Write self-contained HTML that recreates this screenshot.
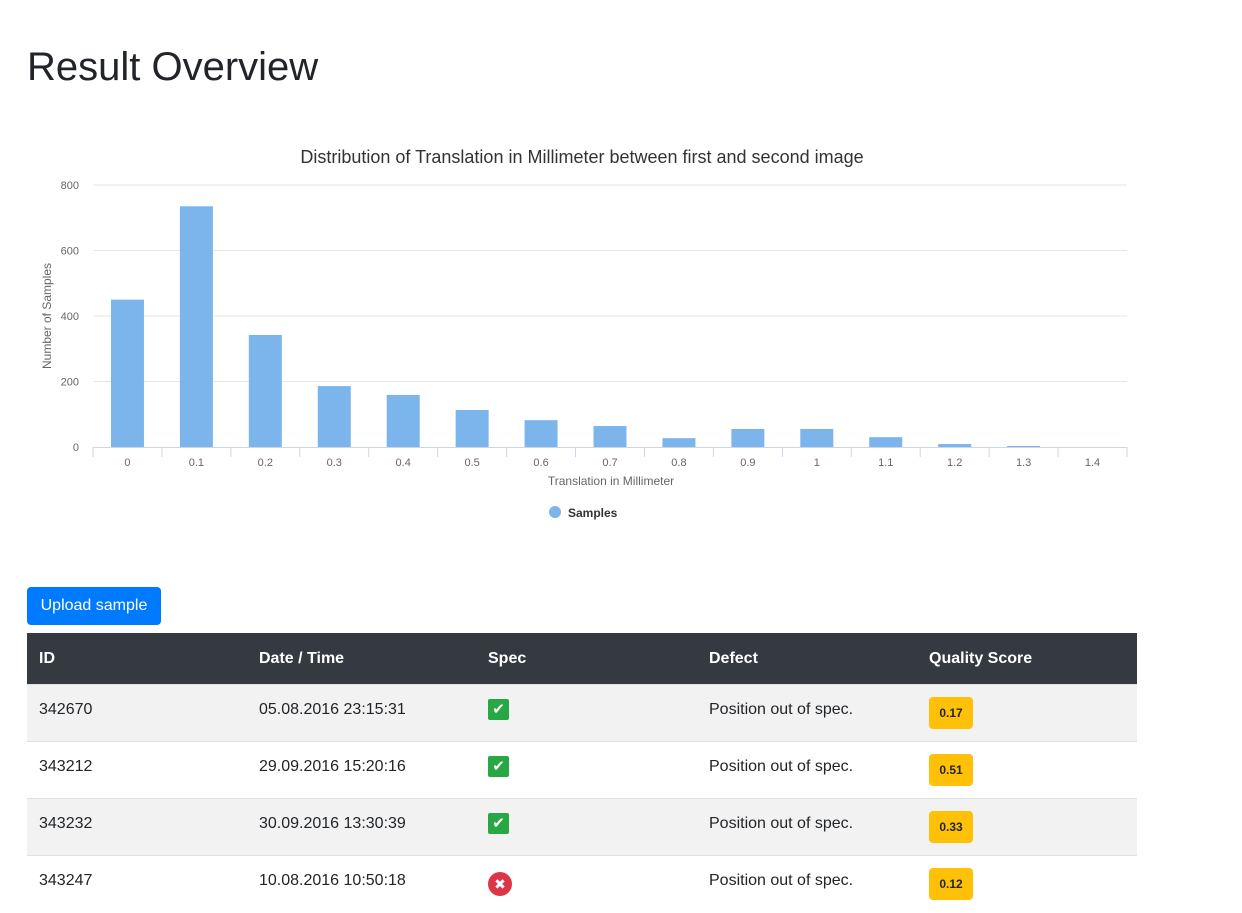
<!DOCTYPE html>
<html><head><meta charset="utf-8"><style>
body{margin:0;background:#fff;font-family:"Liberation Sans",sans-serif;color:#212529;width:1242px;height:877px;overflow:hidden;position:relative}
h1{position:absolute;left:27px;top:43px;margin:0;font-weight:400;font-size:40px;line-height:48px}
#chart{position:absolute;left:0;top:0}
.btn{position:absolute;left:27px;top:587px;width:134px;height:38px;background:#007bff;color:#fff;border-radius:4px;font-size:16px;line-height:38px;text-align:center}
table{position:absolute;left:27px;top:633px;width:1110px;border-collapse:collapse;font-size:16px}
th{background:#343a40;color:#fff;text-align:left;height:51px;padding:0 12px;font-weight:700}
td{height:57px;padding:0 12px;border-top:1px solid #dee2e6;vertical-align:top;padding-top:16px;box-sizing:border-box}
tr.odd td{background:#f2f2f2}
.ok{display:inline-block;width:21px;height:21px;background:#28a745;border-radius:2px;color:#fff;font-size:15px;text-align:center;line-height:21px;margin-top:-3px}
.bad{display:inline-block;width:24px;height:24px;background:#dc3545;border-radius:50%;color:#fff;font-size:14px;text-align:center;line-height:24px}
.badge{display:inline-block;width:44px;height:32px;background:#ffc107;border-radius:4px;font-size:12px;font-weight:700;text-align:center;line-height:32px;margin-top:-4px}
</style></head><body>
<h1>Result Overview</h1>
<svg id="chart" width="1242" height="540"></svg>
<div class="btn">Upload sample</div>
<table>
<tr><th style="width:196px">ID</th><th style="width:205px">Date / Time</th><th style="width:197px">Spec</th><th style="width:196px">Defect</th><th>Quality Score</th></tr>
<tr class="odd"><td>342670</td><td>05.08.2016 23:15:31</td><td><span class="ok">✔</span></td><td>Position out of spec.</td><td><span class="badge">0.17</span></td></tr>
<tr><td>343212</td><td>29.09.2016 15:20:16</td><td><span class="ok">✔</span></td><td>Position out of spec.</td><td><span class="badge">0.51</span></td></tr>
<tr class="odd"><td>343232</td><td>30.09.2016 13:30:39</td><td><span class="ok">✔</span></td><td>Position out of spec.</td><td><span class="badge">0.33</span></td></tr>
<tr><td>343247</td><td>10.08.2016 10:50:18</td><td><span class="bad">✖</span></td><td>Position out of spec.</td><td><span class="badge">0.12</span></td></tr>
</table>
<script>
const categories=["0","0.1","0.2","0.3","0.4","0.5","0.6","0.7","0.8","0.9","1","1.1","1.2","1.3","1.4"];
const samples=[450,735,342,186,159,113,82,64,27,55,55,30,9,3,0];
const yTicks=[0,200,400,600,800];
const svg=document.getElementById('chart');
const NS='http://www.w3.org/2000/svg';
const X0=93,X1=1127,Y0=447,Y1=185,YMAX=800;
const bw=(X1-X0)/categories.length;
const y=v=>Y0-(v/YMAX)*(Y0-Y1);
const xc=i=>X0+bw*(i+0.5);
function mk(t,a,txt){const e=document.createElementNS(NS,t);for(const k in a)e.setAttribute(k,a[k]);if(txt!=null)e.textContent=txt;svg.appendChild(e);return e;}
let e;
e=mk('text',{x:582,y:163,'text-anchor':'middle','font-size':18,fill:'#333','font-family':'Liberation Sans'},'Distribution of Translation in Millimeter between first and second image');


yTicks.forEach(t=>{
 if(t>0){e=mk('line',{x1:X0,x2:X1,y1:y(t),y2:y(t),stroke:'#e6e6e6'});
 
 }
 e=mk('text',{x:79,y:y(t)+4,'text-anchor':'end','font-size':11,fill:'#666'},t);
 
 
});
samples.forEach((v,i)=>{
 e=mk('rect',{x:xc(i)-16.5,y:y(v),width:33,height:Y0-y(v),fill:'#7cb5ec'});
 
 
});
e=mk('line',{x1:X0,x2:X1,y1:Y0+0.5,y2:Y0+0.5,stroke:'#ccd6eb'});


for(let i=0;i<=categories.length;i++){
 e=mk('line',{x1:X0+bw*i,x2:X0+bw*i,y1:Y0,y2:Y0+10,stroke:'#ccd6eb'});
 
 
}
categories.forEach((c,i)=>{
 e=mk('text',{x:xc(i),y:466,'text-anchor':'middle','font-size':11,fill:'#666'},c);
 
 
});
e=mk('text',{x:611,y:485,'text-anchor':'middle','font-size':12,fill:'#666'},'Translation in Millimeter');


e=mk('text',{x:0,y:0,'text-anchor':'middle','font-size':12,fill:'#666',transform:'translate(51,316) rotate(-90)'},'Number of Samples');


e=mk('circle',{cx:555,cy:512,r:6,fill:'#7cb5ec'});


e=mk('text',{x:568,y:517,'font-size':12,'font-weight':'bold',fill:'#333'},'Samples');


</script>
</body></html>
